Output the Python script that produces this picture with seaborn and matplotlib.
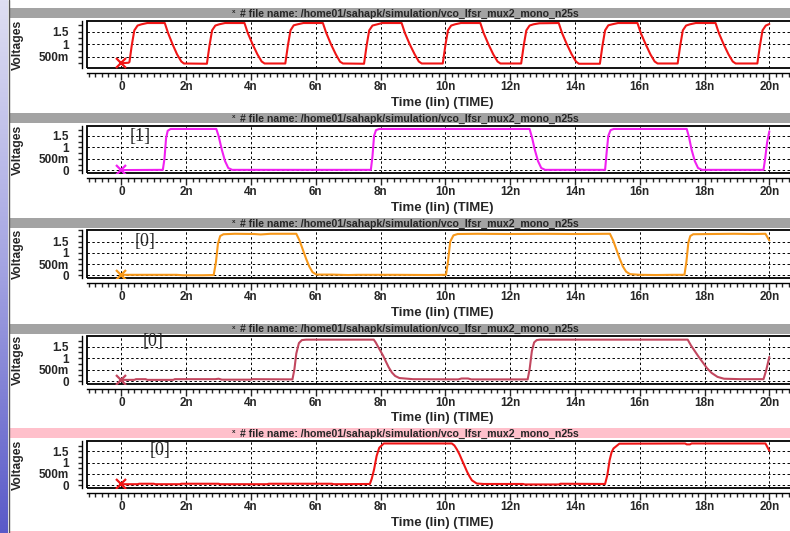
import numpy as np
import pandas as pd
import matplotlib
matplotlib.use("Agg")
import matplotlib.pyplot as plt
import seaborn as sns
from matplotlib.ticker import MultipleLocator
from matplotlib.patches import Rectangle
from matplotlib.lines import Line2D
from matplotlib.colors import LinearSegmentedColormap

# ---------------- data (time in ns, voltage in V) ----------------
t1 = [0.0, 0.22, 0.25, 0.32, 0.40, 0.50, 0.62, 0.80, 1.34, 1.44, 1.58, 1.72, 1.85, 1.93,
      2.64, 2.72, 2.80, 2.90, 3.02, 3.20, 3.80, 3.90, 4.05, 4.20, 4.33, 4.42,
      5.06, 5.14, 5.22, 5.32, 5.44, 5.62, 6.22, 6.32, 6.47, 6.62, 6.75, 6.84,
      7.49, 7.57, 7.65, 7.75, 7.87, 8.05, 8.65, 8.75, 8.90, 9.05, 9.18, 9.27,
      9.92, 10.00, 10.08, 10.18, 10.30, 10.48, 11.08, 11.18, 11.33, 11.48, 11.61, 11.70,
      12.34, 12.42, 12.50, 12.60, 12.72, 12.90, 13.50, 13.60, 13.75, 13.90, 14.03, 14.12,
      14.77, 14.85, 14.93, 15.03, 15.15, 15.33, 15.93, 16.03, 16.18, 16.33, 16.46, 16.55,
      17.17, 17.25, 17.33, 17.43, 17.55, 17.73, 18.34, 18.44, 18.59, 18.74, 18.87, 18.96,
      19.63, 19.71, 19.79, 19.89, 20.00]
v1 = [0.25, 0.27, 0.30, 0.95, 1.55, 1.74, 1.79, 1.84, 1.84, 1.45, 1.00, 0.60, 0.32, 0.24,
      0.23, 0.95, 1.55, 1.74, 1.79, 1.84, 1.84, 1.45, 1.00, 0.60, 0.32, 0.24,
      0.24, 0.95, 1.55, 1.75, 1.79, 1.84, 1.84, 1.46, 1.00, 0.60, 0.31, 0.24,
      0.23, 0.95, 1.55, 1.74, 1.78, 1.84, 1.84, 1.45, 1.00, 0.61, 0.32, 0.24,
      0.24, 0.95, 1.55, 1.74, 1.79, 1.84, 1.84, 1.45, 1.00, 0.60, 0.32, 0.24,
      0.24, 0.96, 1.55, 1.74, 1.79, 1.83, 1.84, 1.45, 1.00, 0.60, 0.32, 0.23,
      0.23, 0.95, 1.55, 1.75, 1.79, 1.84, 1.84, 1.45, 1.01, 0.60, 0.32, 0.24,
      0.24, 0.95, 1.55, 1.74, 1.79, 1.84, 1.84, 1.45, 1.00, 0.60, 0.32, 0.24,
      0.24, 0.95, 1.55, 1.74, 1.80]

t2 = [0.0, 1.28, 1.33, 1.38, 1.43, 1.52, 2.93, 3.00, 3.10, 3.20, 3.30, 3.42,
      7.70, 7.75, 7.80, 7.86, 7.96, 12.60, 12.68, 12.76, 12.86, 12.96, 13.08,
      14.93, 14.98, 15.03, 15.10, 15.20, 17.45, 17.52, 17.60, 17.70, 17.80, 17.92,
      19.82, 19.87, 19.93, 20.00]
v2 = [0.01, 0.02, 0.50, 1.40, 1.72, 1.80, 1.80, 1.50, 0.90, 0.40, 0.10, 0.02,
      0.02, 0.60, 1.50, 1.75, 1.80, 1.80, 1.40, 0.90, 0.40, 0.10, 0.02,
      0.02, 0.80, 1.50, 1.75, 1.80, 1.80, 1.45, 0.90, 0.40, 0.10, 0.02,
      0.02, 0.50, 1.20, 1.70]

t3 = [0.0, 1.0, 1.7, 1.9, 2.5, 2.85, 2.92, 2.98, 3.05, 3.15, 3.5, 4.1, 4.3, 4.6,
      5.40, 5.50, 5.60, 5.70, 5.80, 5.90, 6.02, 6.5, 7.0, 7.3, 8.5, 9.5,
      10.02, 10.08, 10.15, 10.25, 10.38, 11.0, 12.0, 13.0, 14.0,
      15.08, 15.18, 15.28, 15.38, 15.48, 15.58, 15.70, 16.0, 16.5, 17.0,
      17.38, 17.44, 17.50, 17.56, 17.65, 18.2, 18.9, 19.5, 19.88, 20.0]
v3 = [0.03, 0.03, 0.03, 0.01, 0.01, 0.02, 0.60, 1.40, 1.75, 1.83, 1.85, 1.84, 1.82, 1.85,
      1.85, 1.55, 1.15, 0.75, 0.40, 0.15, 0.04, 0.04, 0.02, 0.03, 0.03, 0.02,
      0.03, 0.60, 1.50, 1.78, 1.84, 1.85, 1.84, 1.85, 1.84,
      1.85, 1.55, 1.15, 0.75, 0.40, 0.17, 0.06, 0.03, 0.02, 0.03,
      0.03, 0.60, 1.45, 1.75, 1.83, 1.84, 1.85, 1.84, 1.85, 1.55]

t4 = [0.0, 0.4, 0.45, 0.75, 0.8, 1.6, 1.65, 2.9, 3.0, 3.1, 4.0, 4.05,
      5.28, 5.34, 5.40, 5.48, 5.57, 5.70,
      7.79, 7.85, 7.92, 8.00, 8.08, 8.16, 8.25, 8.35, 8.45, 8.58,
      9.0, 10.4, 10.5, 10.7, 10.8, 11.5,
      12.54, 12.60, 12.67, 12.74, 12.82, 12.92,
      17.48, 17.58, 17.70, 17.82, 17.95, 18.08, 18.22, 18.40, 18.60,
      19.1, 19.82, 19.90, 20.0]
v4 = [0.05, 0.05, 0.08, 0.08, 0.05, 0.05, 0.08, 0.08, 0.10, 0.06, 0.06, 0.08,
      0.07, 0.50, 1.20, 1.65, 1.78, 1.80,
      1.80, 1.68, 1.50, 1.30, 1.10, 0.86, 0.60, 0.37, 0.22, 0.13,
      0.08, 0.07, 0.11, 0.11, 0.07, 0.07,
      0.07, 0.50, 1.30, 1.68, 1.78, 1.80,
      1.80, 1.55, 1.30, 1.05, 0.80, 0.55, 0.35, 0.18, 0.10,
      0.08, 0.08, 0.45, 1.05]

t5 = [0.0, 0.5, 0.55, 1.0, 1.05, 1.8, 1.85, 3.0, 3.05, 4.5, 4.55, 6.5, 6.55,
      7.67, 7.73, 7.80, 7.88, 7.96, 8.10,
      10.20, 10.28, 10.36, 10.44, 10.51, 10.59, 10.67, 10.75, 10.82, 10.97, 11.18,
      12.4, 12.45, 13.5, 13.55,
      14.93, 15.00, 15.07, 15.13, 15.19, 15.37,
      17.40, 17.45, 17.55, 17.6, 19.88, 20.0]
v5 = [0.05, 0.05, 0.07, 0.07, 0.05, 0.05, 0.07, 0.07, 0.05, 0.05, 0.07, 0.07, 0.05,
      0.06, 0.30, 0.70, 1.30, 1.65, 1.84,
      1.84, 1.75, 1.57, 1.35, 1.12, 0.86, 0.60, 0.38, 0.22, 0.08, 0.06,
      0.06, 0.04, 0.04, 0.07,
      0.06, 0.45, 1.10, 1.45, 1.62, 1.83,
      1.84, 1.80, 1.80, 1.84, 1.84, 1.52]

series_t = [t1, t2, t3, t4, t5]
series_v = [v1, v2, v3, v4, v5]
tags = [None, "[1]", "[0]", "[0]", "[0]"]

xtick_vals = [0, 2, 4, 6, 8, 10, 12, 14, 16, 18, 20]
xtick_labels = ["0", "2n", "4n", "6n", "8n", "10n", "12n", "14n", "16n", "18n", "20n"]
ytick_vals = [0.0, 0.5, 1.0, 1.5]
ytick_labels = ["0", "500m", "1", "1.5"]

header_text = "# file name: /home01/sahapk/simulation/vco_lfsr_mux2_mono_n25s"
x_label = "Time (lin) (TIME)"
y_label = "Voltages"

# ---------------- style / layout ----------------
line_colors = ['#f01515', '#f020f0', '#f7981a', '#c2475f', '#f01515']
ylims = [(0.05, 1.94), (-0.13, 1.95), (-0.12, 2.0), (-0.13, 1.95), (-0.13, 1.97)]
header_tops = [8.3, 113.3, 218.2, 324.0, 428.3]
header_colors = ['#a3a3a3'] * 4 + ['#ffc0cb']
tag_pos = [None, (140, 136.5), (145, 241.5), (153, 341.5), (160, 450)]

sns.set_style("white")
plt.rcParams['font.family'] = ['Liberation Sans', 'DejaVu Sans']

W, FH = 790, 533
fig = plt.figure(figsize=(W / 100, FH / 100), dpi=100)

# left gradient strip
gcmap = LinearSegmentedColormap.from_list("g", ['#dedef2', '#a4a4e2', '#5a5ac8'])
gax = fig.add_axes([0, 0, 8 / W, 1])
gax.imshow(np.linspace(0, 1, 256).reshape(-1, 1), aspect='auto', cmap=gcmap, extent=[0, 1, 0, 1])
gax.axis('off')
fig.add_artist(Line2D([8.6 / W] * 2, [0, 1], transform=fig.transFigure, color='#555555', lw=1))
# bottom pink band
fig.add_artist(Rectangle((10 / W, 0), 1, 2.2 / FH, transform=fig.transFigure, fc='#ffc0cb', ec='none'))

L, R = 86.7, 804.0
XLIM = (-1.07, 21.07)

for i in range(5):
    H = header_tops[i]
    box_top, box_bot = H + 12.2, H + 60.0
    fig.add_artist(Rectangle((10 / W, 1 - (H + 10) / FH), (W - 10) / W, 10 / FH,
                             transform=fig.transFigure, fc=header_colors[i], ec='none'))
    fig.text(234 / W, 1 - (H + 3.4) / FH, "x", fontsize=4.5, fontweight='bold', va='center', ha='center')
    fig.text(240 / W, 1 - (H + 5.4) / FH, header_text, fontsize=7.6, fontweight='bold',
             va='center', ha='left')

    ax = fig.add_axes([L / W, 1 - box_bot / FH, (R - L) / W, (box_bot - box_top) / FH])
    df = pd.DataFrame({'Time': series_t[i], 'Voltage': series_v[i]})
    sns.lineplot(data=df, x='Time', y='Voltage', ax=ax, color=line_colors[i], linewidth=1.5,
                 estimator=None, sort=False, zorder=3)
    ax.plot(df['Time'].iloc[:1], df['Voltage'].iloc[:1], ls='none', marker='x', ms=7, mew=1.6,
            color=line_colors[i], zorder=5)

    for s in ['top', 'right']:
        ax.spines[s].set_visible(False)
    ax.spines['left'].set_position(('outward', 3.6))
    ax.spines['bottom'].set_position(('outward', 3.4))
    for s in ['left', 'bottom']:
        ax.spines[s].set_color('black')
        ax.spines[s].set_linewidth(1.0)
    ax.add_patch(Rectangle((0, 0), 1, 1, transform=ax.transAxes, fill=False, ec='black',
                           lw=1.3, clip_on=False, zorder=4))

    ax.set_xticks(xtick_vals)
    ax.set_xticklabels(xtick_labels, fontsize=8.5, fontweight='bold')
    ax.set_yticks(ytick_vals)
    ax.set_yticklabels(ytick_labels, fontsize=8.5, fontweight='bold')
    ax.xaxis.set_minor_locator(MultipleLocator(0.2))
    ax.yaxis.set_minor_locator(MultipleLocator(0.25))
    ax.tick_params(axis='x', which='major', bottom=True, direction='out', length=5, width=1, pad=1.0)
    ax.tick_params(axis='x', which='minor', bottom=True, direction='out', length=3.2, width=1)
    ax.tick_params(axis='y', which='both', left=True, direction='out', length=3.2, width=1, pad=6.0)

    ax.set_axisbelow(True)
    ax.grid(True, which='major', axis='both', color='black', linestyle=(0, (2.5, 2.5)), linewidth=0.7)

    ax.set_xlim(*XLIM)
    ax.set_ylim(*ylims[i])

    ax.set_xlabel(x_label, fontsize=9.5, fontweight='bold', va='center')
    ax.xaxis.set_label_coords((442 - L) / (R - L), -34.5 / (box_bot - box_top))
    ax.set_ylabel(y_label, fontsize=8.8, fontweight='bold', va='center')
    ax.yaxis.set_label_coords((18 - L) / (R - L), 0.5)

    if tags[i]:
        x, y = tag_pos[i]
        fig.text(x / W, 1 - y / FH, tags[i], fontsize=13, family=['Liberation Serif', 'DejaVu Serif'],
                 ha='center', va='center')

fig.savefig("out.png", dpi=100)
